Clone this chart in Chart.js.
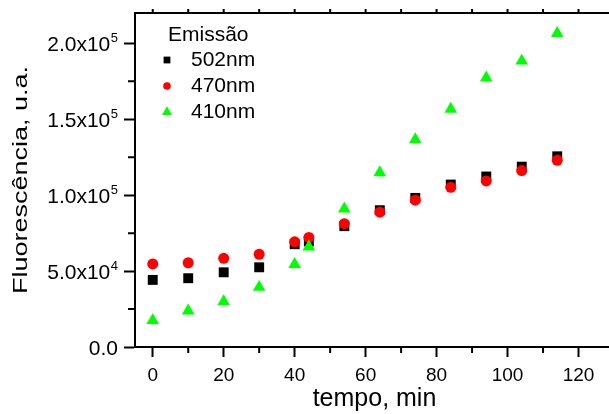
<!DOCTYPE html>
<html>
<head>
<meta charset="utf-8">
<script src="https://cdn.jsdelivr.net/npm/chart.js@4.4.1/dist/chart.umd.min.js"></script>
<style>
    html, body { margin: 0; padding: 0; background: #fff; overflow: hidden; }
    #wrap { width: 640px; height: 414px; }
</style>
</head>
<body>
<div id="wrap"><canvas id="chart" width="640" height="414"></canvas></div>
<script>
// Data
const timeMin = [0, 10, 20, 30, 40, 44, 54, 64, 74, 84, 94, 104, 114];
const em502 = [44200, 45300, 49200, 52500, 67700, 69500, 79600, 90100, 98200, 107000, 112300, 118800, 125600];
const em470 = [54700, 55500, 58400, 61100, 69300, 72200, 81200, 88800, 96700, 105200, 109400, 116200, 123000];
const em410 = [17500, 23800, 29900, 39400, 54500, 66000, 91000, 114900, 136600, 156700, 177300, 188400, 206600];
const seriesLabels = ['502nm', '470nm', '410nm'];
const legendTitle = 'Emissão';
const xTitle = 'tempo, min';
const yTitle = 'Fluorescência, u.a.';

// Tick positions
const xTicks = [0, 20, 40, 60, 80, 100, 120];
const xMinorTicks = [10, 30, 50, 70, 90, 110];
const yTicks = [0, 50000, 100000, 150000, 200000];
const yMinorTicks = [25000, 75000, 125000, 175000];

const family = '"Liberation Sans", Arial, sans-serif';
const legendRadius = [4.8, 3.8, 5.8];

function points(ys) {
    return timeMin.map((t, i) => ({ x: t, y: ys[i] }));
}

// 50000 -> ["5.0x10", "4"]
function sciParts(v) {
    if (v === 0) return ['0.0', ''];
    const e = Math.floor(Math.log10(v));
    return [(v / Math.pow(10, e)).toFixed(1) + 'x10', String(e)];
}

// Top/right frame, minor ticks and the small ticks on the top edge
const frameAndTicks = {
    id: 'frameAndTicks',
    afterDraw(chart) {
        const { ctx, chartArea: a, scales: { x, y } } = chart;
        ctx.save();
        ctx.strokeStyle = '#000';
        ctx.lineWidth = 2;
        ctx.beginPath();
        ctx.moveTo(a.left - 1, a.top);
        ctx.lineTo(a.right, a.top);
        ctx.lineTo(a.right, a.bottom);
        for (const v of xMinorTicks) {
            const px = x.getPixelForValue(v);
            ctx.moveTo(px, a.bottom);
            ctx.lineTo(px, a.bottom + 6);
        }
        for (const v of xTicks.concat(xMinorTicks)) {
            const px = x.getPixelForValue(v);
            ctx.moveTo(px, a.top);
            ctx.lineTo(px, a.top - 4);
        }
        for (const v of yMinorTicks) {
            const py = y.getPixelForValue(v);
            ctx.moveTo(a.left, py);
            ctx.lineTo(a.left - 7, py);
        }
        ctx.stroke();
        ctx.restore();
    }
};

// y tick labels with a raised exponent, and the y title
const yLabels = {
    id: 'yLabels',
    afterDraw(chart) {
        const { ctx, chartArea: a, scales: { y } } = chart;
        const right = a.left - 17;
        ctx.save();
        ctx.fillStyle = '#000';
        ctx.textAlign = 'right';
        ctx.textBaseline = 'alphabetic';
        for (const v of yTicks) {
            const py = y.getPixelForValue(v);
            const [main, exp] = sciParts(v);
            let r = right;
            if (exp) {
                ctx.font = '13px ' + family;
                ctx.fillText(exp, r, py - 1.5);
                r -= ctx.measureText(exp).width + 0.5;
            }
            ctx.font = '21px ' + family;
            ctx.fillText(main, r, py + 7.5);
        }
        // rotated axis title
        ctx.translate(27, (a.top + a.bottom) / 2);
        ctx.rotate(-Math.PI / 2);
        ctx.scale(1, 0.74);
        ctx.textAlign = 'center';
        ctx.font = '27px ' + family;
        ctx.fillText(yTitle, 0, 0);
        ctx.restore();
    }
};

// Legend inside the plot, top-left, with a title line
const emissionLegend = {
    id: 'emissionLegend',
    afterDatasetsDraw(chart) {
        const { ctx, chartArea: a } = chart;
        ctx.save();
        ctx.font = '21px ' + family;
        ctx.textBaseline = 'middle';
        ctx.textAlign = 'left';
        ctx.fillStyle = '#000';
        ctx.fillText(legendTitle, a.left + 33, a.top + 22);
        chart.data.datasets.forEach((ds, i) => {
            const cy = a.top + 47 + 26 * i;
            ctx.fillStyle = ds.backgroundColor;
            Chart.helpers.drawPoint(ctx, { pointStyle: ds.pointStyle, radius: legendRadius[i], borderWidth: 0 }, a.left + 32, cy);
            ctx.fillStyle = '#000';
            ctx.fillText(ds.label, a.left + 56, cy);
        });
        ctx.restore();
    }
};

new Chart(document.getElementById('chart'), {
    type: 'scatter',
    data: {
        datasets: [
            {
                label: seriesLabels[0],
                data: points(em502),
                pointStyle: 'rect',
                pointRadius: 7,
                backgroundColor: '#000000',
                borderColor: '#000000',
                pointBorderWidth: 0,
                order: 2
            },
            {
                label: seriesLabels[1],
                data: points(em470),
                pointStyle: 'circle',
                pointRadius: 5.5,
                backgroundColor: '#ff0000',
                borderColor: '#ff0000',
                pointBorderWidth: 0,
                order: 1
            },
            {
                label: seriesLabels[2],
                data: points(em410),
                pointStyle: 'triangle',
                pointRadius: 7.3,
                backgroundColor: '#00ff00',
                borderColor: '#00ff00',
                pointBorderWidth: 0,
                order: 0
            }
        ]
    },
    options: {
        responsive: false,
        animation: false,
        events: [],
        layout: { padding: { top: 13, right: 26, left: 0, bottom: 0 } },
        plugins: {
            legend: { display: false },
            tooltip: { enabled: false }
        },
        scales: {
            x: {
                type: 'linear',
                min: -5,
                max: 130,
                afterFit(s) { s.height = 67; },
                afterBuildTicks(s) { s.ticks = xTicks.map(v => ({ value: v })); },
                grid: { drawOnChartArea: false, tickLength: 10, tickWidth: 2, tickColor: '#000' },
                border: { color: '#000', width: 2 },
                ticks: { color: '#000', font: { family, size: 19 }, padding: 7, maxRotation: 0, autoSkip: false },
                title: { display: true, text: xTitle, color: '#000', font: { family, size: 25 }, padding: 0 }
            },
            y: {
                type: 'linear',
                min: 0,
                max: 220000,
                afterFit(s) { s.width = 135; },
                afterBuildTicks(s) { s.ticks = yTicks.map(v => ({ value: v })); },
                grid: { drawOnChartArea: false, tickLength: 11, tickWidth: 2, tickColor: '#000' },
                border: { color: '#000', width: 2 },
                ticks: { display: false },
                title: { display: false, text: yTitle }
            }
        }
    },
    plugins: [frameAndTicks, yLabels, emissionLegend]
});
</script>
</body>
</html>
